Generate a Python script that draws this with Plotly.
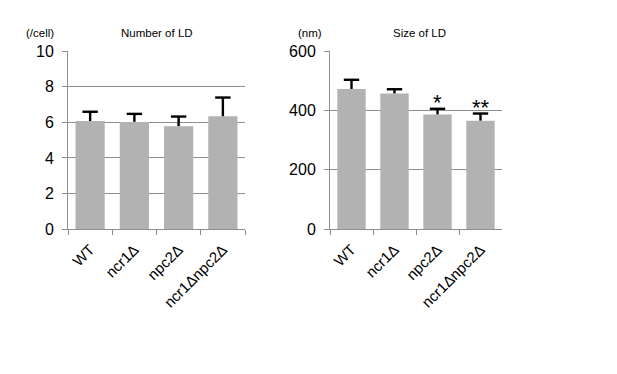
import plotly.graph_objects as go

categories = ["WT", "ncr1Δ", "npc2Δ", "ncr1Δnpc2Δ"]
number_ld = [6.08, 6.03, 5.79, 6.35]
number_err = [0.52, 0.45, 0.54, 1.05]
size_ld = [473, 458, 387, 366]
size_err = [31, 14, 19, 24]
size_sig = ["", "", "*", "**"]

BAR = "#b2b2b2"
GRID = "#8e8e8e"
FONT = "Liberation Sans, Arial, sans-serif"
W, H = 617, 374
OFF = 8  # page body margin


def px(x):
    return (x - OFF) / W


def py(y):
    return 1 - (y - OFF) / H


fig = go.Figure()


def add_panel(vals, errs, xa, ya):
    fig.add_trace(go.Bar(
        x=categories, y=vals, marker=dict(color=BAR, line=dict(width=0)),
        error_y=dict(type="data", array=errs, arrayminus=[0]*len(errs), symmetric=False,
                     color="black", thickness=2.4, width=0),
        xaxis=xa, yaxis=ya, showlegend=False, hoverinfo="skip"))
    fig.add_trace(go.Scatter(
        x=categories, y=[v + e for v, e in zip(vals, errs)], mode="markers",
        marker=dict(symbol="line-ew", size=11, line=dict(width=2.4, color="black")),
        xaxis=xa, yaxis=ya, showlegend=False, hoverinfo="skip"))


add_panel(number_ld, number_err, "x", "y")
add_panel(size_ld, size_err, "x2", "y2")

ydom = [py(229), py(51)]
xcommon = dict(type="category", tickangle=-45, tickson="boundaries", ticks="outside",
               ticklen=5, tickcolor=GRID, showline=True, linecolor=GRID, linewidth=1,
               showgrid=False, automargin=False, ticklabelstandoff=5,
               tickfont=dict(size=15, color="black", family=FONT))
ycommon = dict(ticks="outside", ticklen=5, tickcolor=GRID, showline=True, linecolor=GRID,
               linewidth=1, showgrid=True, gridcolor=GRID, gridwidth=1, zeroline=False,
               automargin=False, ticklabelstandoff=5,
               tickfont=dict(size=16, color="black", family=FONT))

fig.update_layout(
    width=W, height=H, margin=dict(l=0, r=0, t=0, b=0),
    paper_bgcolor="white", plot_bgcolor="white", bargap=0.34,
    font=dict(family=FONT, color="black"),
    xaxis=dict(domain=[px(68), px(245)], anchor="y", **xcommon),
    yaxis=dict(domain=ydom, anchor="x", range=[0, 10.02], tickvals=[0, 2, 4, 6, 8, 10], **ycommon),
    xaxis2=dict(domain=[px(330), px(502)], anchor="y2", **xcommon),
    yaxis2=dict(domain=ydom, anchor="x2", range=[0, 601.2], tickvals=[0, 200, 400, 600], **ycommon),
)

ann = []


def label(text, x, y):
    ann.append(dict(text=text, x=px(x), y=py(y), xref="paper", yref="paper",
                    showarrow=False, font=dict(size=11.5), xanchor="center", yanchor="middle"))


label("Number of LD", (68 + 245) / 2, 33)
label("(/cell)", 40, 33)
label("Size of LD", 419, 33)
label("(nm)", 310, 33)
for c, v, e, s in zip(categories, size_ld, size_err, size_sig):
    if s:
        ann.append(dict(text=s, x=c, y=v + e, xref="x2", yref="y2", showarrow=False,
                        font=dict(size=22), xanchor="center", yanchor="bottom", yshift=-8))
fig.update_layout(annotations=ann)

fig.write_html("out.html")
